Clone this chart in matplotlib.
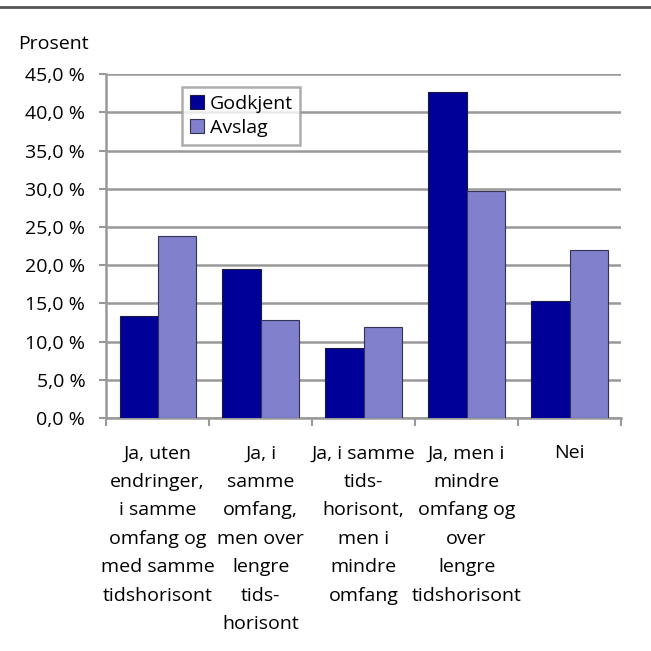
import numpy as np
import matplotlib.pyplot as plt
from matplotlib.lines import Line2D

plt.rcParams['font.family'] = ['Open Sans', 'DejaVu Sans']

categories = [
    "Ja, uten\nendringer,\ni samme\nomfang og\nmed samme\ntidshorisont",
    "Ja, i\nsamme\nomfang,\nmen over\nlengre\ntids-\nhorisont",
    "Ja, i samme\ntids-\nhorisont,\nmen i\nmindre\nomfang",
    "Ja, men i\nmindre\nomfang og\nover\nlengre\ntidshorisont",
    "Nei",
]
godkjent = [13.4, 19.5, 9.2, 42.7, 15.3]
avslag = [23.8, 12.8, 11.9, 29.7, 22.0]
yticks = [0, 5, 10, 15, 20, 25, 30, 35, 40, 45]

fs = 14

fig = plt.figure(figsize=(6.51, 6.51), dpi=100)
ax = fig.add_axes([0.163, 0.358, 0.791, 0.528])

x = np.arange(len(categories))
w = 0.37
ax.bar(x - w / 2, godkjent, w, color="#000099", edgecolor="#1a1a40", linewidth=0.8,
       label="Godkjent", zorder=3)
ax.bar(x + w / 2, avslag, w, color="#8080cc", edgecolor="#333355", linewidth=0.8,
       label="Avslag", zorder=3)

ax.set_xlim(-0.5, len(categories) - 0.5)
ax.set_ylim(0, 45)
ax.set_yticks(yticks)
ax.set_yticklabels([f"{v:.1f} %".replace(".", ",") for v in yticks], fontsize=fs)
ax.yaxis.grid(True, color="#999999", linewidth=1.8, zorder=0)
ax.tick_params(axis="y", length=5, width=1.5, color="#999999", pad=10)

ax.set_xticks(x)
ax.set_xticklabels(categories, fontsize=fs, linespacing=1.75, va="top")
ax.tick_params(axis="x", which="major", length=0, pad=19)
ax.set_xticks(np.arange(-0.5, len(categories)), minor=True)
ax.tick_params(axis="x", which="minor", length=6, width=1.5, color="#999999")

for s in ["top", "right"]:
    ax.spines[s].set_visible(False)
for s in ["left", "bottom"]:
    ax.spines[s].set_color("#999999")
    ax.spines[s].set_linewidth(1.8)

leg = ax.legend(loc="upper left", bbox_to_anchor=(0.148, 0.962), fontsize=fs,
                frameon=True, fancybox=False, handlelength=0.7, handleheight=0.7,
                handletextpad=0.3, borderpad=0.4, labelspacing=0.3, borderaxespad=0)
leg.get_frame().set_edgecolor("#999999")
leg.get_frame().set_linewidth(1.8)

fig.text(0.028, 0.932, "Prosent", fontsize=fs, va="center")
fig.add_artist(Line2D([0, 1], [0.989, 0.989], color="#555555", linewidth=2,
                      transform=fig.transFigure))

fig.savefig("out.png", dpi=100)
